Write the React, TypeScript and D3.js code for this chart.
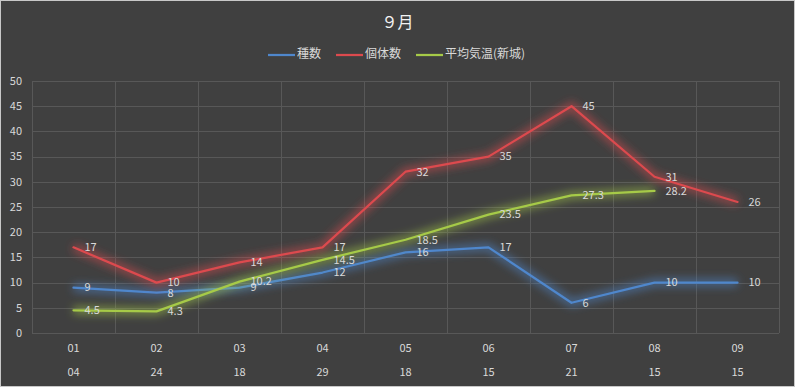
import React from "react";
import * as d3 from "d3";

const W = 795;
const H = 387;

const rounds = ["01", "02", "03", "04", "05", "06", "07", "08", "09"];
const days = ["04", "24", "18", "29", "18", "15", "21", "15", "15"];
const species = [9, 8, 9, 12, 16, 17, 6, 10, 10];
const individuals = [17, 10, 14, 17, 32, 35, 45, 31, 26];
const avgTemp = [4.5, 4.3, 10.2, 14.5, 18.5, 23.5, 27.3, 28.2, null];
const yTicks = [0, 5, 10, 15, 20, 25, 30, 35, 40, 45, 50];

const seriesList = [
  { name: "種数", color: "#4f87cc", values: species, legendX: 268 },
  { name: "個体数", color: "#dc4a4e", values: individuals, legendX: 336 },
  { name: "平均気温(新城)", color: "#a6ca48", values: avgTemp, legendX: 416 },
];

const FONT = "'Noto Sans CJK JP', 'Noto Sans', sans-serif";
const margin = { left: 32, right: 16, top: 81, bottom: 54 };

const App = () => {
  const x = d3
    .scaleBand<string>()
    .domain(rounds)
    .range([margin.left, W - margin.right]);
  const y = d3.scaleLinear().domain([0, 50]).range([H - margin.bottom, margin.top]);

  const cx = (i: number) => (x(rounds[i]) as number) + x.bandwidth() / 2;

  const line = d3
    .line<number | null>()
    .defined((d) => d != null)
    .x((_, i) => cx(i))
    .y((d) => y(d as number));

  const boundaries = rounds.map((r) => x(r) as number).concat([W - margin.right]);

  return (
    <div style={{ position: "fixed", left: 0, top: 0 }}>
      <svg width={W} height={H} style={{ display: "block", fontFamily: FONT }}>
        <defs>
          <filter id="glow" x="-10%" y="-30%" width="120%" height="160%">
            <feGaussianBlur stdDeviation="4.5" />
          </filter>
        </defs>
        <rect x={0.5} y={0.5} width={W - 1} height={H - 1} fill="#404040" stroke="#c8c8c8" />

        {/* grid */}
        {yTicks.map((t) => (
          <line
            key={"h" + t}
            x1={margin.left}
            x2={W - margin.right}
            y1={Math.round(y(t)) + 0.5}
            y2={Math.round(y(t)) + 0.5}
            stroke="#585858"
            strokeWidth={1}
          />
        ))}
        {boundaries.map((b, i) => (
          <line
            key={"v" + i}
            x1={Math.round(b) + 0.5}
            x2={Math.round(b) + 0.5}
            y1={y(50)}
            y2={y(0)}
            stroke="#585858"
            strokeWidth={1}
          />
        ))}

        {/* y axis labels */}
        {yTicks.map((t) => (
          <text
            key={"yt" + t}
            x={22}
            y={y(t)}
            dy="0.35em"
            textAnchor="end"
            fontSize={11}
            fill="#d9d9d9"
          >
            {t}
          </text>
        ))}

        {/* x axis labels, two levels */}
        {rounds.map((r, i) => (
          <g key={"xl" + r}>
            <text x={cx(i)} y={348} dy="0.35em" textAnchor="middle" fontSize={11} fill="#d9d9d9">
              {r}
            </text>
            <text x={cx(i)} y={372} dy="0.35em" textAnchor="middle" fontSize={11} fill="#d9d9d9">
              {days[i]}
            </text>
          </g>
        ))}

        {/* series glow + lines */}
        {seriesList.map((s) => (
          <g key={"s" + s.name}>
            <path
              d={line(s.values) || ""}
              fill="none"
              stroke={s.color}
              strokeWidth={8}
              strokeOpacity={0.55}
              filter="url(#glow)"
            />
            <path
              d={line(s.values) || ""}
              fill="none"
              stroke={s.color}
              strokeWidth={2.25}
              strokeLinejoin="round"
              strokeLinecap="round"
            />
          </g>
        ))}

        {/* data labels */}
        {seriesList.map((s) =>
          s.values.map((v, i) =>
            v == null ? null : (
              <text
                key={"dl" + s.name + i}
                x={cx(i) + 11}
                y={y(v)}
                dy="0.35em"
                fontSize={11}
                fill="#d9d9d9"
              >
                {v}
              </text>
            )
          )
        )}

        {/* title */}
        <text x={W / 2} y={22} dy="0.35em" textAnchor="middle" fontSize={16} fill="#f2f2f2">
          ９月
        </text>

        {/* legend */}
        {seriesList.map((s) => (
          <g key={"lg" + s.name}>
            <line
              x1={s.legendX}
              x2={s.legendX + 27}
              y1={55}
              y2={55}
              stroke={s.color}
              strokeWidth={2.25}
            />
            <text x={s.legendX + 29} y={54} dy="0.35em" fontSize={12} fill="#d9d9d9">
              {s.name}
            </text>
          </g>
        ))}
      </svg>
    </div>
  );
};

export default App;
